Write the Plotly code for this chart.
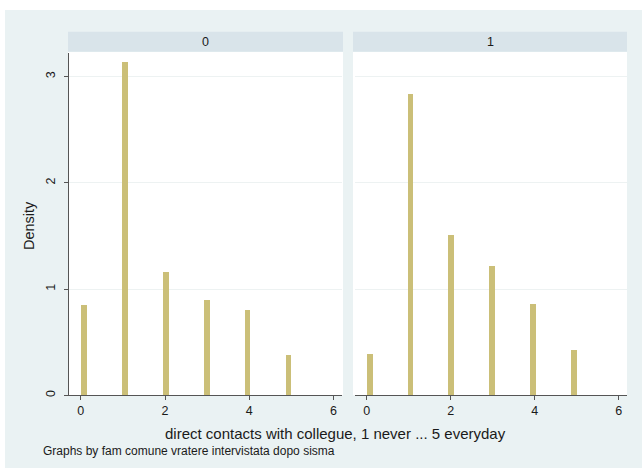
import math
import plotly.graph_objects as go

# ---- data ----
contact_levels = [0, 1, 2, 3, 4, 5]
density_group0 = [0.85, 3.14, 1.16, 0.90, 0.81, 0.38]
density_group1 = [0.39, 2.84, 1.51, 1.22, 0.86, 0.43]
panel_labels = ["0", "1"]
x_ticks = [0, 2, 4, 6]
y_ticks = [0, 1, 2, 3]

x_title = "direct contacts with collegue, 1 never ... 5 everyday"
y_title = "Density"
note_text = "Graphs by fam comune vratere intervistata dopo sisma"

# Stata-like histogram binning: 36 bins over [0, 5]
n_bins = 36
bin_lo, bin_hi = 0.0, 5.0
bin_w = (bin_hi - bin_lo) / n_bins


def bin_center(v):
    k = min(int(math.floor((v - bin_lo) / bin_w + 1e-9)), n_bins - 1)
    return bin_lo + (k + 0.5) * bin_w


centers = [bin_center(v) for v in contact_levels]

W, H = 642, 470
BAR = "#cbbf78"
BG = "#eaf2f3"
STRIP = "#d9e4ea"
AXC = "#555555"
TXT = "#1a1a1a"
FONT = "Liberation Sans, Arial, sans-serif"


def px(x):
    return x / W


def py(y):
    return 1 - y / H


fig = go.Figure()
for i, dens in enumerate([density_group0, density_group1]):
    sfx = "" if i == 0 else str(i + 1)
    fig.add_trace(go.Bar(
        x=centers, y=dens, width=bin_w,
        marker=dict(color=BAR, line=dict(width=0)),
        xaxis="x" + sfx, yaxis="y" + sfx, showlegend=False,
        hoverinfo="x+y",
    ))

plot_top, plot_bot = 53, 397
left_dom = (69, 342)
right_dom = (355, 627)
xr = [-0.28, 6.2]
yr = [0, 3.225]

common_x = dict(range=xr, tickvals=x_ticks, showline=True, linecolor=AXC, linewidth=1,
                ticks="outside", ticklen=4, tickcolor=AXC, showgrid=False, zeroline=False,
                tickfont=dict(family=FONT, size=12.5, color=TXT), fixedrange=True)
fig.update_layout(
    xaxis=dict(domain=[px(left_dom[0]), px(left_dom[1])], anchor="y", **common_x),
    xaxis2=dict(domain=[px(right_dom[0]), px(right_dom[1])], anchor="y2", **common_x),
    yaxis=dict(domain=[py(plot_bot), py(plot_top)], range=yr, tickvals=y_ticks, anchor="x",
               showline=True, linecolor=AXC, linewidth=1, ticks="outside", ticklen=4,
               tickcolor=AXC, tickangle=-90, showgrid=True, gridcolor="#edf2f2", gridwidth=1,
               zeroline=False, ticklabelstandoff=4,
               tickfont=dict(family=FONT, size=12.5, color=TXT)),
    yaxis2=dict(domain=[py(plot_bot), py(plot_top)], range=yr, tickvals=y_ticks, anchor="x2",
                showline=False, ticks="", showticklabels=False, showgrid=True,
                gridcolor="#edf2f2", gridwidth=1, zeroline=False),
)

shapes = [
    dict(type="rect", xref="paper", yref="paper", x0=px(5), x1=1, y0=0, y1=py(10),
         fillcolor=BG, line=dict(width=0), layer="below"),
    dict(type="rect", xref="paper", yref="paper", x0=px(68), x1=px(343), y0=py(plot_bot), y1=py(52),
         fillcolor="white", line=dict(width=0), layer="below"),
    dict(type="rect", xref="paper", yref="paper", x0=px(353), x1=px(627), y0=py(plot_bot), y1=py(52),
         fillcolor="white", line=dict(width=0), layer="below"),
    dict(type="rect", xref="paper", yref="paper", x0=px(68), x1=px(343), y0=py(52), y1=py(32),
         fillcolor=STRIP, line=dict(width=0), layer="below"),
    dict(type="rect", xref="paper", yref="paper", x0=px(353), x1=px(627), y0=py(52), y1=py(32),
         fillcolor=STRIP, line=dict(width=0), layer="below"),
]


def ann(text, x, y, size, xanchor="center", angle=0):
    return dict(text=text, x=px(x), y=py(y), xref="paper", yref="paper",
                xanchor=xanchor, yanchor="middle", textangle=angle, showarrow=False,
                font=dict(family=FONT, size=size, color=TXT))


annotations = [
    ann(panel_labels[0], (68 + 343) / 2, 42, 12.5),
    ann(panel_labels[1], (353 + 627) / 2, 42, 12.5),
    ann(y_title, 29, 227, 14.5, angle=-90),
    ann(x_title, 336, 435, 15),
    ann(note_text, 41, 453, 12, xanchor="left"),
]

fig.update_layout(
    width=W, height=H, margin=dict(l=0, r=0, t=0, b=0),
    paper_bgcolor="white", plot_bgcolor="rgba(0,0,0,0)",
    shapes=shapes, annotations=annotations, bargap=0,
    font=dict(family=FONT, color=TXT),
)

fig.write_html("out.html")
